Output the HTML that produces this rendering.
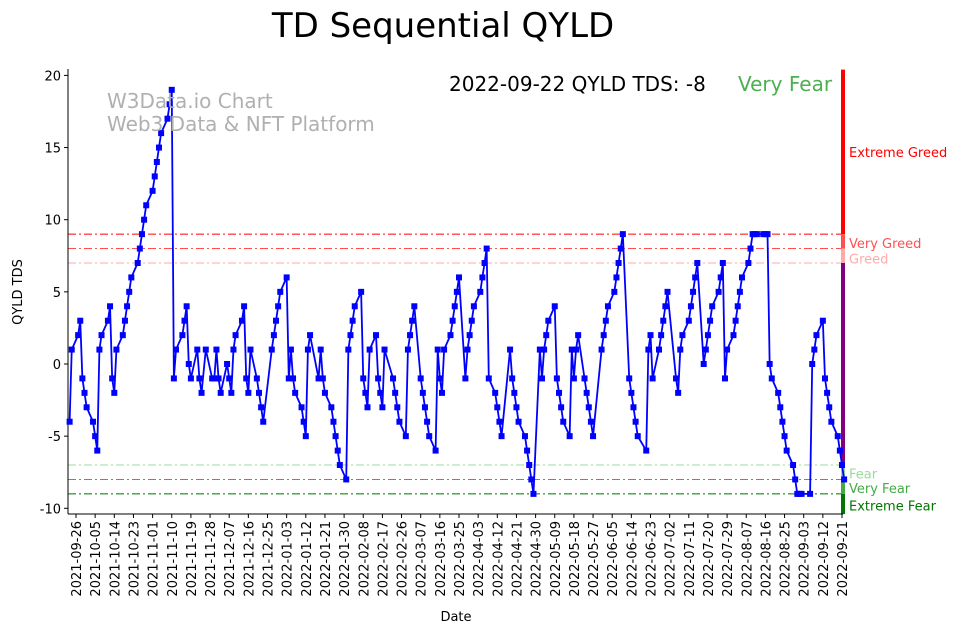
<!DOCTYPE html>
<html><head><meta charset="utf-8"><style>
body{margin:0;background:#fff;}
svg text{font-family:"DejaVu Sans","Liberation Sans",sans-serif;}
</style></head><body>
<svg id="chart" width="962" height="633" xmlns="http://www.w3.org/2000/svg">
<text x="443" y="37" font-size="34" text-anchor="middle">TD Sequential QYLD</text>
<g id="plot"></g>
<text x="107" y="108" font-size="20" fill="#b0b0b0">W3Data.io Chart</text>
<text x="107" y="131" font-size="20" fill="#b0b0b0">Web3 Data &amp; NFT Platform</text>
<text x="449" y="91" font-size="20">2022-09-22 QYLD TDS: -8</text>
<text x="738" y="91" font-size="20" fill="#4caf50">Very Fear</text>
<text transform="translate(22,292) rotate(-90)" font-size="13" text-anchor="middle">QYLD TDS</text>
<text x="456" y="621" font-size="13" text-anchor="middle">Date</text>
</svg>
<script>
const tdsValues = [-4,1,2,3,-1,-2,-3,-4,-5,-6,1,2,3,4,-1,-2,1,2,3,4,5,6,7,8,9,10,11,12,13,14,15,16,17,18,19,-1,1,2,3,4,0,-1,1,-1,-2,1,-1,-1,1,-1,-2,0,-1,-2,1,2,3,4,-1,-2,1,-1,-2,-3,-4,
1,2,3,4,5,6,-1,1,-1,-2,-3,-4,-5,1,2,-1,1,-1,-2,-3,-4,-5,-6,-7,-8,1,2,3,4,5,-1,-2,-3,1,2,-1,-2,-3,1,-1,-2,-3,-4,-5,1,2,3,4,-1,-2,-3,-4,-5,-6,1,-1,-2,1,
2,3,4,5,6,-1,1,2,3,4,5,6,7,8,-1,-2,-3,-4,-5,1,-1,-2,-3,-4,-5,-6,-7,-8,-9,1,-1,1,2,3,4,-1,-2,-3,-4,-5,1,-1,1,2,-1,-2,-3,-4,-5,1,2,3,4,5,6,7,8,9,-1,-2,-3,-4,-5,-6,1,
2,-1,1,2,3,4,5,-1,-2,1,2,3,4,5,6,7,0,1,2,3,4,5,6,7,-1,1,2,3,4,5,6,7,8,9,9,9,9,9,9,0,-1,-2,-3,-4,-5,-6,-7,-8,-9,-9,-9,-9,0,1,2,3,-1,-2,-3,-4,-5,-6,-7,-8];
const holidays = ["2021-11-25","2021-12-24","2022-01-17","2022-02-21","2022-04-15","2022-05-30","2022-06-20","2022-07-04","2022-09-05"];
const startDate = "2021-09-20", endDate = "2022-09-22";
const yTicks = [-10,-5,0,5,10,15,20];
const tickStart = "2021-09-26", tickStepDays = 9, tickCount = 41;
const levelValues = [9,8,7,-7,-8,-9];
const levelColors = ["#ff0000","#ff5050","#ffaaaa","#99dd99","#44aa44","#007700"];
const levelNames = ["Extreme Greed","Very Greed","Greed","Fear","Very Fear","Extreme Fear"];

const NS="http://www.w3.org/2000/svg";
const plot=document.getElementById('plot');
const DAY=86400000;
const t0=Date.parse("2021-09-26"), t1=Date.parse("2022-09-21");
const X=t=>76+(t-t0)/(t1-t0)*766;
const Y=v=>364-v*14.43;
function mk(tag,attrs){const e=document.createElementNS(NS,tag);for(const k in attrs)e.setAttribute(k,attrs[k]);plot.appendChild(e);return e;}

const dates=[];
for(let t=Date.parse(startDate);t<=Date.parse(endDate);t+=DAY){
  const d=new Date(t);const wd=d.getUTCDay();const s=d.toISOString().slice(0,10);
  if(wd!==0&&wd!==6&&!holidays.includes(s))dates.push(t);
}
const used=dates.slice(-tdsValues.length);

levelValues.forEach((v,i)=>{
  const l=mk('line',{x1:68,x2:842,y1:Y(v),y2:Y(v),stroke:levelColors[i],'stroke-width':1,'stroke-dasharray':'8,3,2,3'});
  
  
});
const segs=[[20.4,9,"#ff0000"],[9,8,"#ff5050"],[8,7,"#ffaaaa"],[7,-7,"#800080"],[-7,-8,"#99dd99"],[-8,-9,"#44aa44"],[-9,-10.4,"#007700"]];
segs.forEach((s,i)=>{
  const r=mk('rect',{x:841,y:Y(s[0]),width:4,height:Y(s[1])-Y(s[0]),fill:s[2]});
  
  
});
const labelY=[14.7,8.4,7.3,-7.6,-8.6,-9.8];
levelNames.forEach((n,i)=>{
  const t=mk('text',{x:849,y:Y(labelY[i])+5,'font-size':13,fill:levelColors[i]});
  t.textContent=n;
  
  
});
const ax=mk('line',{x1:68,x2:68,y1:69,y2:514,stroke:'#000'});


const bx=mk('line',{x1:68,x2:843,y1:514,y2:514,stroke:'#000'});


yTicks.forEach(v=>{
  mk('line',{x1:64,x2:68,y1:Y(v),y2:Y(v),stroke:'#000'});
  const t=mk('text',{x:61,y:Y(v)+5,'font-size':13,'text-anchor':'end'});
  t.textContent=v;
  
  
});
for(let i=0;i<tickCount;i++){
  const t=Date.parse(tickStart)+i*tickStepDays*DAY;const x=X(t);
  mk('line',{x1:x,x2:x,y1:514,y2:518,stroke:'#000'});
  const lb=mk('text',{transform:`translate(${x+5},521) rotate(-90)`,'font-size':13,'text-anchor':'end'});
  lb.textContent=new Date(t).toISOString().slice(0,10);
  
  
}
const pts=tdsValues.map((v,i)=>[X(used[i]),Y(v)]);
const pl=mk('polyline',{points:pts.map(p=>p.join(',')).join(' '),fill:'none',stroke:'#0000ff','stroke-width':1.8});


pts.forEach(p=>{
  const r=mk('rect',{x:p[0]-3,y:p[1]-3,width:6,height:6,fill:'#0000ff'});
  
  
});
</script>
</body></html>
